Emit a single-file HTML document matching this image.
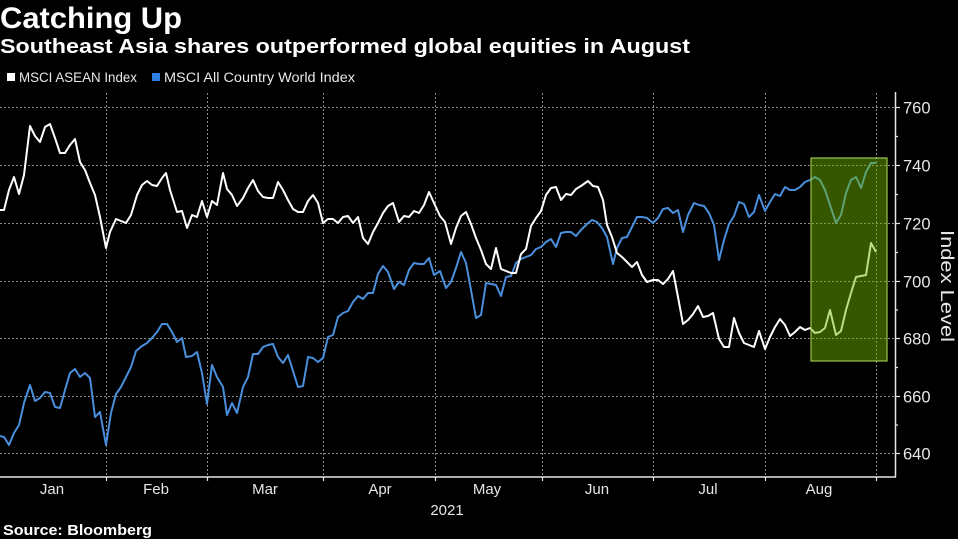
<!DOCTYPE html>
<html><head><meta charset="utf-8"><style>
html,body{margin:0;padding:0;background:#000;width:958px;height:539px;overflow:hidden}
svg{display:block}
text{font-family:"Liberation Sans",sans-serif}
</style></head><body>
<svg width="958" height="539" viewBox="0 0 958 539" xmlns="http://www.w3.org/2000/svg">
<rect width="958" height="539" fill="#000"/>
<text x="0" y="28" font-size="30" font-weight="bold" fill="#fff" textLength="182" lengthAdjust="spacingAndGlyphs">Catching Up</text>
<text x="0" y="53" font-size="20" font-weight="bold" fill="#fff" textLength="690" lengthAdjust="spacingAndGlyphs">Southeast Asia shares outperformed global equities in August</text>
<rect x="7" y="73" width="8" height="8" fill="#fff"/>
<text x="19" y="82" font-size="13.5" fill="#e8e8e8" textLength="118" lengthAdjust="spacingAndGlyphs">MSCI ASEAN Index</text>
<rect x="152" y="73" width="8" height="8" fill="#2f80e0"/>
<text x="164" y="82" font-size="13.5" fill="#e8e8e8" textLength="191" lengthAdjust="spacingAndGlyphs">MSCI All Country World Index</text>
<g stroke="#8a8a8a" stroke-width="1" stroke-dasharray="2,2" fill="none">
<line x1="0" y1="107.5" x2="895" y2="107.5"/>
<line x1="0" y1="165.5" x2="895" y2="165.5"/>
<line x1="0" y1="223.5" x2="895" y2="223.5"/>
<line x1="0" y1="281.5" x2="895" y2="281.5"/>
<line x1="0" y1="338.5" x2="895" y2="338.5"/>
<line x1="0" y1="396.5" x2="895" y2="396.5"/>
<line x1="0" y1="453.5" x2="895" y2="453.5"/>
<line x1="106.5" y1="93" x2="106.5" y2="477"/>
<line x1="207.5" y1="93" x2="207.5" y2="477"/>
<line x1="323.5" y1="93" x2="323.5" y2="477"/>
<line x1="435.5" y1="93" x2="435.5" y2="477"/>
<line x1="542.5" y1="93" x2="542.5" y2="477"/>
<line x1="653.5" y1="93" x2="653.5" y2="477"/>
<line x1="765.5" y1="93" x2="765.5" y2="477"/>
<line x1="876.5" y1="93" x2="876.5" y2="477"/>
</g>
<polyline fill="none" stroke="#4a8fdc" stroke-width="2" stroke-linejoin="round" points="0,436 4,437 9,445 14,433 19,425 24,403 30,385 35,401 40,398 45,392 50,393 55,407 60,408 65,390 70,373 75,369 80,377 85,373 90,378 95,417 100,412 106,445 111,413 116,394 121,387 126,377 131,367 136,351 142,346 147,343 152,338 157,332 162,324 167,324 172,332 177,342 182,338 186,357 192,356 197,352 202,373 207,404 212,365 217,377 223,387 227,415 232,403 237,413 243,387 248,377 253,354 258,354 263,347 268,345 273,344 278,357 283,363 288,355 293,371 298,387 303,386 308,357 313,358 318,362 323,358 328,337 333,335 338,317 343,313 348,311 353,302 358,296 363,299 368,293 373,293 378,274 383,266 388,272 394,289 399,282 404,285 409,270 414,263 419,264 424,264 429,258 434,275 440,271 446,288 451,282 456,268 461,252 466,263 471,290 476,318 481,315 486,283 491,284 496,285 501,296 506,277 511,276 516,263 521,259 526,257 531,255 536,249 541,247 546,242 551,239 556,247 561,233 566,232 571,232 576,236 581,230 587,224 592,220 597,222 602,228 607,237 613,264 617,248 622,238 627,237 632,227 637,217 642,217 647,218 653,223 658,218 663,209 668,208 673,213 678,210 683,232 688,215 694,203 699,205 704,206 709,213 714,225 719,260 724,240 729,224 734,216 739,202 744,204 749,217 754,212 759,195 765,211 770,202 775,194 780,196 785,187 790,190 795,190 800,187 805,182 810,180 815,177 820,180 825,190 830,205 836,223 841,215 846,193 851,180 856,177 861,188 866,172 871,163 876,163"/>
<polyline fill="none" stroke="#ffffff" stroke-width="2" stroke-linejoin="round" points="0,210 4,210 9,190 14,177 19,194 24,175 30,126 35,136 40,142 45,127 50,124 55,138 60,153 65,153 70,145 75,139 80,162 85,170 90,183 95,195 100,217 106,248 110,232 116,219 121,221 126,223 131,215 137,195 142,185 147,181 152,185 157,186 162,178 166,173 170,190 177,212 182,211 187,228 192,215 197,217 202,201 207,217 212,201 217,205 223,173 227,189 232,195 237,206 243,198 248,188 253,180 258,191 263,197 268,198 273,198 278,182 283,190 288,200 293,209 298,212 303,212 308,201 313,195 318,203 323,223 328,219 333,219 338,223 343,217 348,216 353,223 358,217 363,238 368,244 373,232 378,223 383,213 388,206 393,203 399,222 404,216 409,217 414,211 419,213 424,205 429,192 434,203 440,216 445,222 451,244 456,228 461,216 466,212 471,224 476,238 481,250 486,264 491,269 496,248 501,269 506,271 511,273 516,273 521,254 526,249 531,226 536,218 541,211 546,195 551,188 556,187 561,200 566,194 571,195 576,189 581,186 588,181 593,186 598,187 603,200 607,225 612,237 617,253 622,257 627,262 632,267 637,262 642,275 647,282 653,280 658,280 663,284 668,279 673,271 678,297 683,324 688,320 693,314 698,306 703,317 708,316 713,313 719,339 724,347 729,347 734,318 739,333 744,343 749,345 754,347 759,331 765,349 770,337 775,327 780,319 785,325 790,336 795,332 800,327 805,330 810,328 815,333 820,332 825,328 830,310 836,335 841,331 846,310 851,293 856,277 861,276 866,275 871,243 876,252"/>
<rect x="811" y="158" width="76" height="203" fill="rgba(115,185,0,0.47)" stroke="#9cc24a" stroke-width="1.2"/>
<g stroke="#e6e6e6" stroke-width="1.5" fill="none">
<line x1="0" y1="477" x2="896" y2="477"/>
<line x1="895.5" y1="92" x2="895.5" y2="477"/>
</g>
<g stroke="#e6e6e6" stroke-width="1.2">
<line x1="895" y1="107.5" x2="900" y2="107.5"/>
<line x1="895" y1="165.5" x2="900" y2="165.5"/>
<line x1="895" y1="223.5" x2="900" y2="223.5"/>
<line x1="895" y1="281.5" x2="900" y2="281.5"/>
<line x1="895" y1="338.5" x2="900" y2="338.5"/>
<line x1="895" y1="396.5" x2="900" y2="396.5"/>
<line x1="895" y1="453.5" x2="900" y2="453.5"/>
<line x1="895" y1="136.5" x2="898" y2="136.5"/>
<line x1="895" y1="194.5" x2="898" y2="194.5"/>
<line x1="895" y1="252.5" x2="898" y2="252.5"/>
<line x1="895" y1="310" x2="898" y2="310"/>
<line x1="895" y1="367.5" x2="898" y2="367.5"/>
<line x1="895" y1="425" x2="898" y2="425"/>
<line x1="106.5" y1="477" x2="106.5" y2="481"/>
<line x1="207.5" y1="477" x2="207.5" y2="481"/>
<line x1="323.5" y1="477" x2="323.5" y2="481"/>
<line x1="435.5" y1="477" x2="435.5" y2="481"/>
<line x1="542.5" y1="477" x2="542.5" y2="481"/>
<line x1="653.5" y1="477" x2="653.5" y2="481"/>
<line x1="765.5" y1="477" x2="765.5" y2="481"/>
<line x1="876.5" y1="477" x2="876.5" y2="481"/>
</g>
<g font-size="16.5" fill="#e6e6e6">
<text x="903" y="113.5">760</text>
<text x="903" y="171.5">740</text>
<text x="903" y="229.5">720</text>
<text x="903" y="287.5">700</text>
<text x="903" y="344.5">680</text>
<text x="903" y="402.5">660</text>
<text x="903" y="459.5">640</text>
</g>
<text transform="translate(941,286) rotate(90)" text-anchor="middle" font-size="18" fill="#e6e6e6" textLength="112" lengthAdjust="spacingAndGlyphs">Index Level</text>
<g font-size="15" fill="#e6e6e6" text-anchor="middle">
<text x="52" y="494">Jan</text>
<text x="156" y="494">Feb</text>
<text x="265" y="494">Mar</text>
<text x="380" y="494">Apr</text>
<text x="487" y="494">May</text>
<text x="597" y="494">Jun</text>
<text x="708" y="494">Jul</text>
<text x="819" y="494">Aug</text>
<text x="447" y="515">2021</text>
</g>
<text x="3" y="535" font-size="14.5" font-weight="bold" fill="#fff" textLength="149" lengthAdjust="spacingAndGlyphs">Source: Bloomberg</text>
</svg>
</body></html>
